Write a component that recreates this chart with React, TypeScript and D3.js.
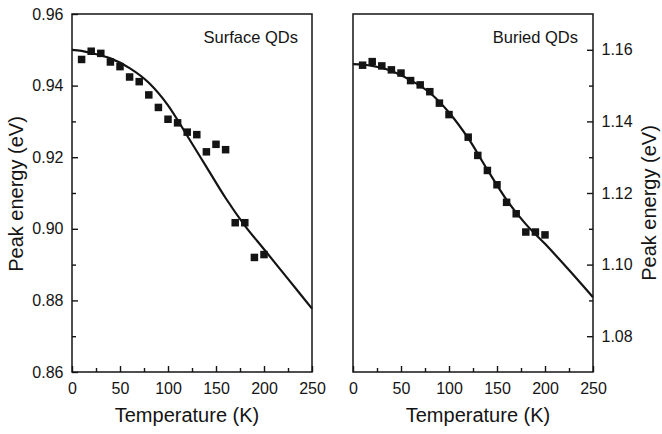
import React, { useEffect, useRef } from "react";
import * as d3 from "d3";

// Surface QDs (left panel)
const surfT = [10, 20, 30, 40, 50, 60, 70, 80, 90, 100, 110, 120, 130, 140, 150, 160, 170, 180, 190, 200];
const surfE = [0.9473, 0.9496, 0.949, 0.9466, 0.9453, 0.9424, 0.9411, 0.9374, 0.9339, 0.9306, 0.9296, 0.927, 0.9263, 0.9215, 0.9236, 0.9221, 0.9017, 0.9017, 0.892, 0.8928];
const surfFitT = [0, 10, 20, 40, 60, 80, 100, 120, 140, 160, 180, 200, 225, 250];
const surfFitE = [0.95, 0.9497, 0.9491, 0.9476, 0.9449, 0.9408, 0.9345, 0.926, 0.9173, 0.9086, 0.9009, 0.8943, 0.886, 0.8777];

// Buried QDs (right panel)
const burT = [10, 20, 30, 40, 50, 60, 70, 80, 90, 100, 120, 130, 140, 150, 160, 170, 180, 190, 200];
const burE = [1.1557, 1.1567, 1.1555, 1.1544, 1.1535, 1.1514, 1.1502, 1.1483, 1.1451, 1.1419, 1.1356, 1.1305, 1.1263, 1.1223, 1.1174, 1.1142, 1.1091, 1.1091, 1.1083];
const burFitT = [0, 10, 20, 40, 60, 80, 100, 120, 140, 160, 180, 200, 225, 250];
const burFitE = [1.156, 1.1559, 1.1555, 1.1541, 1.1515, 1.148, 1.1425, 1.1353, 1.1265, 1.1181, 1.1113, 1.1058, 1.0985, 1.0909];

const xMajor = [0, 50, 100, 150, 200, 250];
const xMinor = [25, 75, 125, 175, 225];
const leftYMajor = [0.86, 0.88, 0.9, 0.92, 0.94, 0.96];
const leftYMinor = [0.87, 0.89, 0.91, 0.93, 0.95];
const rightYMajor = [1.08, 1.1, 1.12, 1.14, 1.16];
const rightYMinor = [1.09, 1.11, 1.13, 1.15];

const xTitle = "Temperature (K)";
const yTitle = "Peak energy (eV)";

const INK = "#141414";
const FONT = "'Liberation Sans', Arial, Helvetica, sans-serif";

export default function App() {
  const ref = useRef<SVGSVGElement | null>(null);

  useEffect(() => {
    const svg = d3.select(ref.current);
    svg.selectAll("*").remove();

    const panels = [
      {
        x0: 72, x1: 312, top: 14, bottom: 372,
        yDomain: [0.86, 0.96], yMajor: leftYMajor, yMinor: leftYMinor,
        yFmt: d3.format(".2f"), side: "left",
        T: surfT, E: surfE, fT: surfFitT, fE: surfFitE,
        label: "Surface QDs", labelX: 298,
        xTitleX: 187, yTitleX: 23, yTitleY: 194,
      },
      {
        x0: 353, x1: 593, top: 14, bottom: 372,
        yDomain: [1.07, 1.17], yMajor: rightYMajor, yMinor: rightYMinor,
        yFmt: d3.format(".2f"), side: "right",
        T: burT, E: burE, fT: burFitT, fE: burFitE,
        label: "Buried QDs", labelX: 578,
        xTitleX: 478, yTitleX: 656, yTitleY: 203,
      },
    ];

    panels.forEach((p) => {
      const x = d3.scaleLinear().domain([0, 250]).range([p.x0, p.x1]);
      const y = d3.scaleLinear().domain(p.yDomain).range([p.bottom, p.top]);
      const g = svg.append("g");

      // x axis
      const xa = g.append("g").attr("transform", `translate(0,${p.bottom})`)
        .call(d3.axisBottom(x).tickValues(xMajor).tickSize(-6).tickPadding(11).tickFormat(d3.format("d")));
      const xm = g.append("g").attr("transform", `translate(0,${p.bottom})`)
        .call(d3.axisBottom(x).tickValues(xMinor).tickSize(-4).tickFormat(() => ""));

      // y axis
      let ya, ym;
      if (p.side === "left") {
        ya = g.append("g").attr("transform", `translate(${p.x0},0)`)
          .call(d3.axisLeft(y).tickValues(p.yMajor).tickSize(-6).tickPadding(8.5).tickFormat(p.yFmt));
        ym = g.append("g").attr("transform", `translate(${p.x0},0)`)
          .call(d3.axisLeft(y).tickValues(p.yMinor).tickSize(-4).tickFormat(() => ""));
      } else {
        ya = g.append("g").attr("transform", `translate(${p.x1},0)`)
          .call(d3.axisRight(y).tickValues(p.yMajor).tickSize(-6).tickPadding(8.5).tickFormat(p.yFmt));
        ym = g.append("g").attr("transform", `translate(${p.x1},0)`)
          .call(d3.axisRight(y).tickValues(p.yMinor).tickSize(-4).tickFormat(() => ""));
      }
      [xa, xm, ya, ym].forEach((a) => {
        a.select(".domain").remove();
        a.selectAll("line").attr("stroke", INK).attr("stroke-width", 1.4);
        a.selectAll("text").attr("fill", INK).attr("font-size", 16).attr("font-family", FONT);
      });

      // frame
      g.append("rect")
        .attr("x", p.x0).attr("y", p.top)
        .attr("width", p.x1 - p.x0).attr("height", p.bottom - p.top)
        .attr("fill", "none").attr("stroke", INK).attr("stroke-width", 1.5);

      // fit curve
      const fit = p.fT.map((t, i) => [t, p.fE[i]] as [number, number]);
      g.append("path")
        .datum(fit)
        .attr("d", d3.line<[number, number]>().x((d) => x(d[0])).y((d) => y(d[1])).curve(d3.curveMonotoneX))
        .attr("fill", "none").attr("stroke", INK).attr("stroke-width", 2.2);

      // points
      const s = 7.5;
      g.selectAll("rect.pt")
        .data(p.T.map((t, i) => [t, p.E[i]]))
        .enter().append("rect")
        .attr("class", "pt")
        .attr("x", (d) => x(d[0]) - s / 2)
        .attr("y", (d) => y(d[1]) - s / 2)
        .attr("width", s).attr("height", s)
        .attr("fill", INK);

      // label
      g.append("text")
        .attr("x", p.labelX).attr("y", 43)
        .attr("text-anchor", "end")
        .attr("font-size", 16.5).attr("font-family", FONT).attr("fill", INK)
        .text(p.label);

      // x title
      g.append("text")
        .attr("x", p.xTitleX).attr("y", 422)
        .attr("text-anchor", "middle")
        .attr("font-size", 20).attr("font-family", FONT).attr("fill", INK)
        .text(xTitle);

      // y title
      g.append("text")
        .attr("transform", `translate(${p.yTitleX},${p.yTitleY}) rotate(-90)`)
        .attr("text-anchor", "middle")
        .attr("font-size", 20).attr("font-family", FONT).attr("fill", INK)
        .text(yTitle);
    });
  }, []);

  return (
    <svg
      ref={ref}
      width={662}
      height={434}
      style={{ position: "absolute", left: 0, top: 0, background: "#fff" }}
    />
  );
}
